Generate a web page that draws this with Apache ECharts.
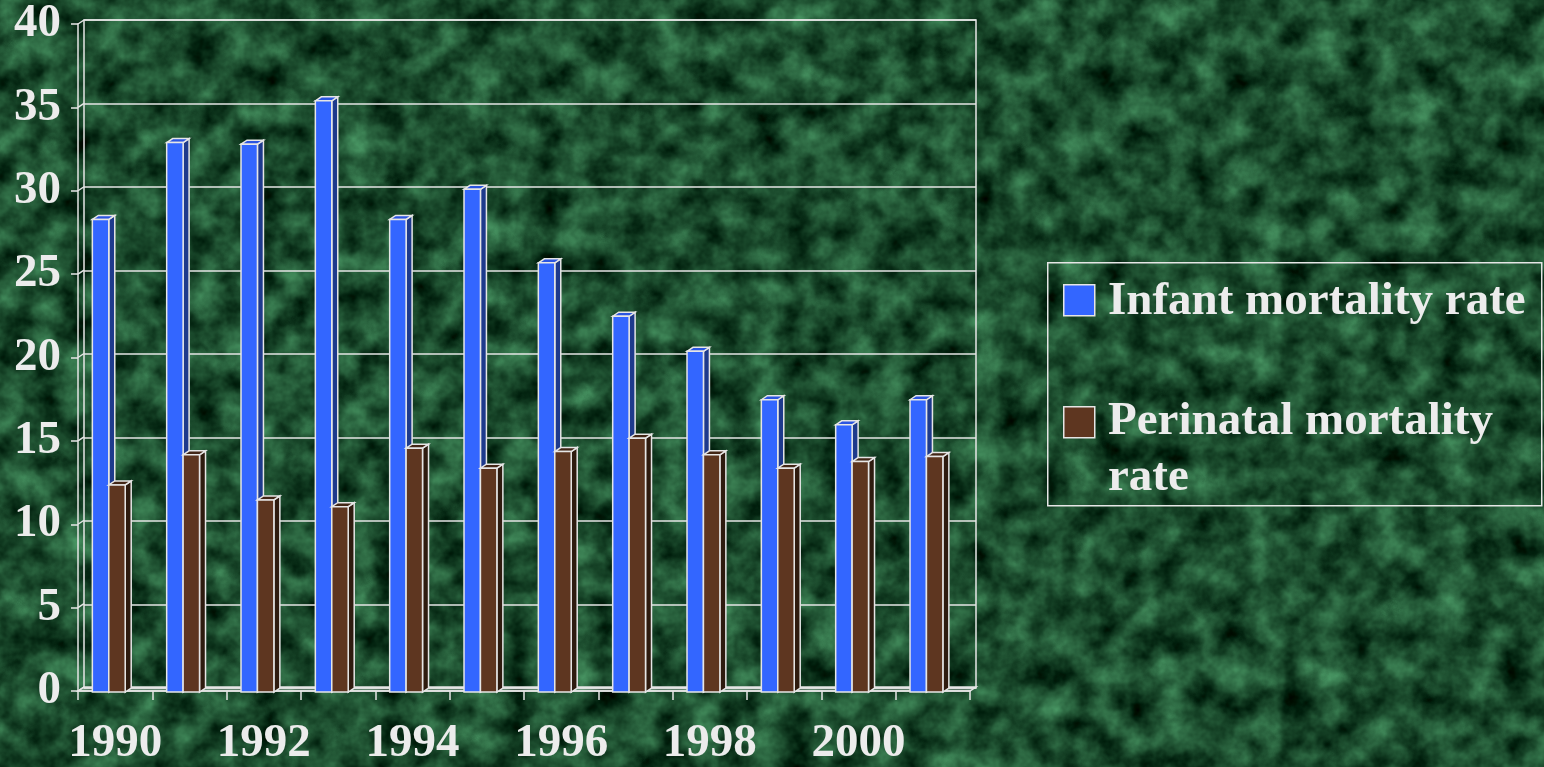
<!DOCTYPE html>
<html>
<head>
<meta charset="utf-8">
<title>Infant and perinatal mortality rate, 1990–2001</title>
<script src="https://cdn.jsdelivr.net/npm/echarts@6/dist/echarts.min.js"></script>
<style>
  html, body { margin: 0; padding: 0; width: 1544px; height: 767px; overflow: hidden; background: #1c5431; }
  #chart { width: 1544px; height: 767px; }
</style>
</head>
<body>
<div id="chart"></div>
<script>
// Years on the category axis
const years = ['1990', '1991', '1992', '1993', '1994', '1995', '1996', '1997', '1998', '1999', '2000', '2001'];
// Rates per year
const infantRate = [28.3, 32.9, 32.8, 35.4, 28.3, 30.1, 25.7, 22.5, 20.4, 17.5, 16.0, 17.5];
const perinatalRate = [12.4, 14.2, 11.5, 11.1, 14.6, 13.4, 14.4, 15.2, 14.2, 13.4, 13.8, 14.1];
// Series names and the legend text (wrapped)
const seriesNames = ['Infant mortality rate', 'Perinatal mortality rate'];
const legendLabels = ['Infant mortality rate', 'Perinatal mortality\nrate'];
// Value-axis ticks
const valueTicks = [0, 5, 10, 15, 20, 25, 30, 35, 40];

// Marble-like green backdrop made from SVG fractal noise
const marble = "<svg xmlns='http://www.w3.org/2000/svg' width='1544' height='767'>" +
  "<filter id='n' x='0' y='0' width='100%' height='100%' color-interpolation-filters='sRGB'>" +
  "<feTurbulence type='fractalNoise' baseFrequency='0.032' numOctaves='4' seed='11'/>" +
  "<feColorMatrix type='matrix' values='0.40 0 0 0 -0.09  0.66 0 0 0 -0.03  0.48 0 0 0 -0.06  0 0 0 0 1'/>" +
  "</filter><rect width='100%' height='100%' filter='url(#n)'/></svg>";
document.body.style.background = 'url("data:image/svg+xml;utf8,' + encodeURIComponent(marble) + '")';

const TEXT = '#ececec';
const LINE = '#e6e6e6';
const FONT = '"Liberation Serif", "Times New Roman", serif';
const DX = 6, DY = 4;          // depth offset between the front and back planes
const colors = [
  { front: '#3366ff', top: '#2b55e0', side: '#1e3a8c' },
  { front: '#5e3620', top: '#422616', side: '#2e1b0f' }
];

// 3D-look bar: front face on the front plane, side and top faces to the back wall
function barRenderer(s) {
  return function (params, api) {
    const i = api.value(0);
    const top = api.coord([i, api.value(1)]);
    const base = api.coord([i, 0]);
    const band = api.size([1, 0])[0];
    const w = band * 0.221;
    const fc = top[0] - DX;
    const xl = fc - 0.307 * band + s * w;
    const xr = xl + w;
    const yt = top[1] + DY;
    const yb = base[1] + DY;
    const st = { stroke: LINE, lineWidth: 1.5 };
    return {
      type: 'group',
      children: [
        { type: 'polygon', shape: { points: [[xr, yt], [xr + DX, yt - DY], [xr + DX, yb - DY], [xr, yb]] },
          style: Object.assign({ fill: colors[s].side }, st) },
        { type: 'polygon', shape: { points: [[xl, yt], [xl + DX, yt - DY], [xr + DX, yt - DY], [xr, yt]] },
          style: Object.assign({ fill: colors[s].top }, st) },
        { type: 'rect', shape: { x: xl, y: yt, width: w, height: yb - yt },
          style: Object.assign({ fill: colors[s].front }, st) }
      ]
    };
  };
}

const chart = echarts.init(document.getElementById('chart'), null, { renderer: 'canvas' });

chart.setOption({
  backgroundColor: 'transparent',
  animation: false,
  grid: [
    // back wall
    { left: 84, top: 20, width: 892, height: 668, show: true, borderColor: LINE, borderWidth: 1.5, backgroundColor: 'transparent' },
    // front plane (axes)
    { left: 78, top: 24, width: 892, height: 668 }
  ],
  xAxis: [
    { gridIndex: 0, type: 'category', data: years, axisLine: { show: false }, axisTick: { show: false }, axisLabel: { show: false } },
    { gridIndex: 1, type: 'category', data: years,
      axisLine: { show: true, lineStyle: { color: LINE, width: 1.5 } },
      axisTick: { show: true, interval: 0, length: 9, lineStyle: { color: LINE, width: 1.5 } },
      axisLabel: { interval: 1, margin: 29, color: TEXT, fontFamily: FONT, fontWeight: 'bold', fontSize: 47 } }
  ],
  yAxis: [
    { gridIndex: 0, type: 'value', min: 0, max: 40, interval: 5,
      axisLine: { show: false }, axisTick: { show: false }, axisLabel: { show: false },
      splitLine: { show: true, lineStyle: { color: LINE, width: 1.5 } } },
    { gridIndex: 1, type: 'value', min: 0, max: 40, interval: 5,
      axisLine: { show: true, lineStyle: { color: LINE, width: 1.5 } },
      axisTick: { show: true, length: 7, lineStyle: { color: LINE, width: 1.5 } },
      axisLabel: { margin: 17, color: TEXT, fontFamily: FONT, fontWeight: 'bold', fontSize: 47 },
      splitLine: { show: false } }
  ],
  series: [
    // side wall: short links from the front ticks to the back grid lines
    { type: 'custom', xAxisIndex: 1, yAxisIndex: 1, silent: true, clip: false, z: 1,
      data: valueTicks.map(v => [0, v]),
      renderItem: function (params, api) {
        const y = api.coord([0, api.value(1)])[1];
        const x = params.coordSys.x;
        return { type: 'line', shape: { x1: x, y1: y, x2: x + DX, y2: y - DY }, style: { stroke: LINE, lineWidth: 1.5 } };
      } },
    // floor
    { type: 'custom', xAxisIndex: 1, yAxisIndex: 1, silent: true, clip: false, z: 1,
      data: [[0, 0]],
      renderItem: function (params, api) {
        const cs = params.coordSys;
        const y = api.coord([0, 0])[1];
        const xr = cs.x + cs.width;
        return { type: 'polygon', shape: { points: [[cs.x, y], [xr, y], [xr + DX, y - DY], [cs.x + DX, y - DY]] },
          style: { fill: 'rgba(230,230,230,0.35)', stroke: LINE, lineWidth: 1.5 } };
      } },
    { name: seriesNames[0], type: 'custom', xAxisIndex: 0, yAxisIndex: 0, clip: false, z: 3,
      data: infantRate.map((v, i) => [i, v]), renderItem: barRenderer(0) },
    { name: seriesNames[1], type: 'custom', xAxisIndex: 0, yAxisIndex: 0, clip: false, z: 4,
      data: perinatalRate.map((v, i) => [i, v]), renderItem: barRenderer(1) }
  ],
  graphic: [
    { type: 'rect', left: 1047, top: 262, shape: { width: 494, height: 243 },
      style: { fill: 'transparent', stroke: LINE, lineWidth: 1.5 } },
    { type: 'rect', left: 1063, top: 284, shape: { width: 31, height: 31 },
      style: { fill: colors[0].front, stroke: LINE, lineWidth: 1.5 } },
    { type: 'rect', left: 1063, top: 406, shape: { width: 31, height: 31 },
      style: { fill: colors[1].front, stroke: LINE, lineWidth: 1.5 } },
    { type: 'text', x: 1108, y: 302,
      style: { text: legendLabels[0], fill: TEXT, font: 'bold 47px ' + FONT, verticalAlign: 'middle', align: 'left' } },
    { type: 'text', x: 1108, y: 394,
      style: { text: legendLabels[1], fill: TEXT, font: 'bold 47px ' + FONT, lineHeight: 56, verticalAlign: 'top', align: 'left' } }
  ]
});
</script>
</body>
</html>
